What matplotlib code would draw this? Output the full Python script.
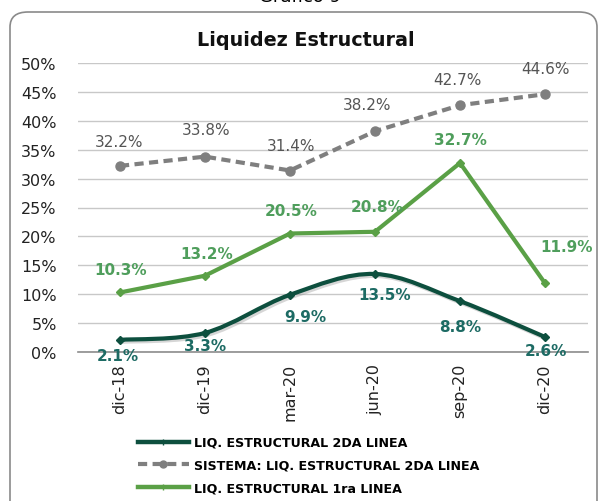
import matplotlib
matplotlib.use("Agg")
import matplotlib.pyplot as plt
import numpy as np
from matplotlib.path import Path
from matplotlib.patches import PathPatch, FancyBboxPatch
from matplotlib.lines import Line2D
import matplotlib.transforms as mtransforms

categories = ["dic-18", "dic-19", "mar-20", "jun-20", "sep-20", "dic-20"]
liq_2da = [2.1, 3.3, 9.9, 13.5, 8.8, 2.6]
sistema_2da = [32.2, 33.8, 31.4, 38.2, 42.7, 44.6]
liq_1ra = [10.3, 13.2, 20.5, 20.8, 32.7, 11.9]
yticks = [0, 5, 10, 15, 20, 25, 30, 35, 40, 45, 50]

c_dark = "#0d4f3e"
c_gray = "#7f7f7f"
c_green = "#5aa046"
lc_dark = "#1d6b64"
lc_gray = "#555555"
lc_green = "#4f9e5c"

plt.rcParams['font.family'] = ['DejaVu Sans']

W, H = 601, 502
fig = plt.figure(figsize=(W / 100, H / 100), dpi=100)

# rounded border
border = FancyBboxPatch((10 / W, -0.05), (587 / W), (H - 13) / H + 0.05,
                        boxstyle="round,pad=0,rounding_size=0.03",
                        transform=fig.transFigure, fill=False,
                        edgecolor="#8a8a8a", linewidth=1.2)
fig.patches.append(border)
fig.text(300 / W, 1 + 3 / H, "Gráfico 9", ha="center", va="center", fontsize=13, color="black")

left, right = 77.5, 587.5
top, bottom = 64, 353
ax = fig.add_axes([left / W, 1 - bottom / H, (right - left) / W, (bottom - top) / H])
ax.set_xlim(-0.5, len(categories) - 0.5)
ax.set_ylim(0, 50)
ax.set_yticks(yticks)
ax.set_yticklabels([f"{v}%" for v in yticks], fontsize=11.5, color="#222222")
ax.set_xticks(range(len(categories)))
ax.set_xticklabels(categories, rotation=90, fontsize=11.5, color="#222222")
ax.tick_params(length=0, pad=15)
ax.tick_params(axis="x", pad=8)
for s in ["top", "right", "left"]:
    ax.spines[s].set_visible(False)
ax.spines["bottom"].set_color("#8c8c8c")
ax.spines["bottom"].set_linewidth(1.2)
ax.grid(axis="y", color="#c8c8c8", linewidth=1.0)
ax.set_axisbelow(True)
ax.set_facecolor("none")

fig.text(306 / W, 1 - 40 / H, "Liquidez Estructural", ha="center", va="center",
         fontsize=13.8, fontweight="bold", color="#111111")

x = np.arange(len(categories))

# smoothed dark line (Catmull-Rom -> cubic Bezier in data coords)
pts = np.column_stack([x, liq_2da]).astype(float)
verts = [tuple(pts[0])]
codes = [Path.MOVETO]
n = len(pts)
for i in range(n - 1):
    p0 = pts[i - 1] if i > 0 else pts[i]
    p1 = pts[i]
    p2 = pts[i + 1]
    p3 = pts[i + 2] if i + 2 < n else pts[i + 1]
    c1 = p1 + (p2 - p0) / 6.0
    c2 = p2 - (p3 - p1) / 6.0
    verts += [tuple(c1), tuple(c2), tuple(p2)]
    codes += [Path.CURVE4] * 3
smooth = Path(verts, codes)
shadow = PathPatch(smooth, facecolor="none", edgecolor="#8a8a8a", linewidth=3.0,
                   alpha=0.35, zorder=3)
shadow.set_transform(ax.transData + mtransforms.ScaledTranslation(2 / 100, -2 / 100, fig.dpi_scale_trans))
ax.add_patch(shadow)
ax.add_patch(PathPatch(smooth, facecolor="none", edgecolor=c_dark, linewidth=3.0,
                       capstyle="round", joinstyle="round", zorder=4))
ax.plot(x, liq_2da, linestyle="none", marker="D", markersize=4.5, color=c_dark, zorder=5)

ax.plot(x, sistema_2da, color=c_gray, linewidth=3, linestyle=(0, (2.2, 1.3)), marker="o",
        markersize=6.5, zorder=4)
ax.plot(x, liq_1ra, color=c_green, linewidth=3, marker="D", markersize=4.5, zorder=4)

def lab(xi, yi, text, dx, dy, color, bold):
    ax.annotate(text, (xi, yi), xytext=(dx, dy), textcoords="offset pixels",
                ha="center", va="center", fontsize=11, color=color,
                fontweight="bold" if bold else "normal", zorder=6)

gray_off = [(-1, 24), (1, 27), (1, 25), (-8, 27), (-3, 26), (0, 26)]
green_off = [(1, 23), (2, 22), (1, 23), (2, 25), (0, 23), (22, 37)]
dark_off = [(-2, -16), (0, -13), (15, -22), (10, -21), (0, -25), (1, -14)]
for i in range(len(categories)):
    lab(x[i], sistema_2da[i], f"{sistema_2da[i]:.1f}%", *gray_off[i], lc_gray, False)
    lab(x[i], liq_1ra[i], f"{liq_1ra[i]:.1f}%", *green_off[i], lc_green, True)
    lab(x[i], liq_2da[i], f"{liq_2da[i]:.1f}%", *dark_off[i], lc_dark, True)

handles = [
    Line2D([], [], color=c_dark, linewidth=3.2, marker="+", markersize=4),
    Line2D([], [], color=c_gray, linewidth=3, linestyle=(0, (2.2, 1.3)), marker="o", markersize=5),
    Line2D([], [], color=c_green, linewidth=3.2, marker="+", markersize=4),
]
labels = ["LIQ. ESTRUCTURAL 2DA LINEA", "SISTEMA: LIQ. ESTRUCTURAL 2DA LINEA", "LIQ. ESTRUCTURAL 1ra LINEA"]
leg = fig.legend(handles, labels, loc="upper left", bbox_to_anchor=(138 / W, 1 - 437 / H),
                 frameon=False, prop={"size": 9.1, "weight": "bold"}, handlelength=4.0,
                 handletextpad=0.45, labelspacing=0.78, borderaxespad=0, borderpad=0)

fig.savefig("out.png", dpi=100)
